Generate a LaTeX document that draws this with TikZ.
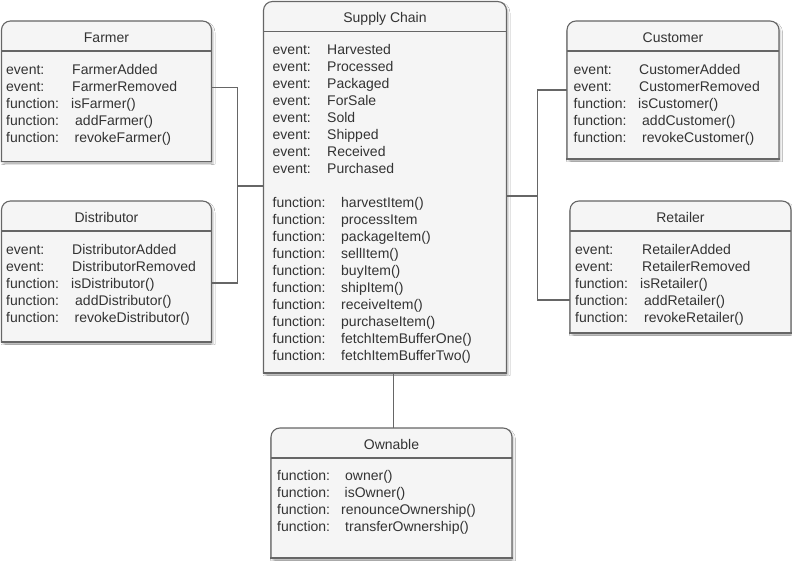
\documentclass[tikz,border=0pt]{standalone}
\usepackage{fontspec}
\setmainfont{Liberation Sans}
\usetikzlibrary{shadows.blur}

\definecolor{boxfill}{HTML}{F5F5F5}
\definecolor{boxline}{HTML}{666666}
\definecolor{txtgray}{HTML}{333333}

\tikzset{
  classbox/.style={rectangle, inner sep=0pt, outer sep=0pt, anchor=north west},
  classfill/.style={fill=boxfill, blur shadow={shadow xshift=1.5pt, shadow yshift=-2.5pt, shadow opacity=25, shadow blur radius=2pt}},
  classline/.style={draw=boxline, line width=1.1pt, line cap=rect},
  sepline/.style={draw=boxline, line width=1.1pt},
  conn/.style={draw=boxline, line width=1.2pt},
  title/.style={font=\fontsize{14}{17}\selectfont, text=txtgray, inner sep=0pt, anchor=base, yshift=-0.8pt},
  member/.style={font=\fontsize{14}{17}\selectfont, text=txtgray, inner sep=0pt, anchor=base west, yshift=-0.8pt},
}

% class box: name, left x, top y, width, height, title
\newcommand\umlclass[6]{%
  \node[classbox, minimum width=#4pt, minimum height=#5pt] (#1) at (#2,#3) {};
  \fill[classfill, rounded corners=9pt] (#1.south west) -- (#1.north west) -- (#1.north east) -- (#1.south east);
  \draw[classline, rounded corners=9pt] (#1.south west) -- (#1.north west) -- (#1.north east) -- (#1.south east);
  \draw[classline] (#1.south west) -- (#1.south east);
  \draw[sepline] ([yshift=-30pt]#1.north west) -- ([yshift=-30pt]#1.north east);
  \node[title] (#1-title) at ([yshift=-20.5pt]#1.north) {#6};
}

% member row: name, label x, value x, baseline y, label, value
\newcommand\mrow[6]{%
  \node[member] (#1-l) at (#2,#4) {#5};
  \node[member] (#1-v) at (#3,#4) {#6};
}

\begin{document}
\begin{tikzpicture}[x=1pt, y=-1pt]
\useasboundingbox (0,0) rectangle (792,561);
\fill[white] (0,0) rectangle (792,561);

% connectors
\coordinate (jl) at (237.5,186);
\coordinate (jr) at (537.5,196);

% Farmer
\umlclass{farmer}{1.5}{21}{210}{140.5}{Farmer}
\mrow{farmer-1}{6}{72}{74}{event:}{FarmerAdded}
\mrow{farmer-2}{6}{72}{91}{event:}{FarmerRemoved}
\mrow{farmer-3}{6}{71}{108}{function:}{isFarmer()}
\mrow{farmer-4}{6}{75}{125}{function:}{addFarmer()}
\mrow{farmer-5}{6}{74.5}{142}{function:}{revokeFarmer()}

% Distributor
\umlclass{distributor}{1.5}{201}{210}{141}{Distributor}
\mrow{distributor-1}{6}{72}{254}{event:}{DistributorAdded}
\mrow{distributor-2}{6}{72}{271}{event:}{DistributorRemoved}
\mrow{distributor-3}{6}{71}{288}{function:}{isDistributor()}
\mrow{distributor-4}{6}{75}{305}{function:}{addDistributor()}
\mrow{distributor-5}{6}{74.5}{322}{function:}{revokeDistributor()}

% Supply Chain
\umlclass{chain}{263.5}{1.5}{243}{371.5}{Supply Chain}
\foreach \ev [count=\i from 0] in {Harvested,Processed,Packaged,ForSale,Sold,Shipped,Received,Purchased}
  {\mrow{chain-e\i}{272.5}{327}{{54+17*\i}}{event:}{\ev}}
\foreach \fn [count=\i from 0] in {harvestItem(),processItem,packageItem(),sellItem(),buyItem(),shipItem(),receiveItem(),purchaseItem(),fetchItemBufferOne(),fetchItemBufferTwo()}
  {\mrow{chain-f\i}{272.5}{341}{{207+17*\i}}{function:}{\fn}}

% Customer
\umlclass{customer}{567}{21}{212}{138}{Customer}
\mrow{customer-1}{573.5}{639}{74}{event:}{CustomerAdded}
\mrow{customer-2}{573.5}{639}{91}{event:}{CustomerRemoved}
\mrow{customer-3}{573.5}{638}{108}{function:}{isCustomer()}
\mrow{customer-4}{573.5}{642}{125}{function:}{addCustomer()}
\mrow{customer-5}{573.5}{642}{142}{function:}{revokeCustomer()}

% Retailer
\umlclass{retailer}{570}{201}{221}{132}{Retailer}
\mrow{retailer-1}{575}{642}{254}{event:}{RetailerAdded}
\mrow{retailer-2}{575}{642}{271}{event:}{RetailerRemoved}
\mrow{retailer-3}{575}{640}{288}{function:}{isRetailer()}
\mrow{retailer-4}{575}{644}{305}{function:}{addRetailer()}
\mrow{retailer-5}{575}{644}{322}{function:}{revokeRetailer()}

% Ownable
\umlclass{ownable}{271}{428}{241}{130}{Ownable}
\mrow{ownable-1}{277}{345}{480}{function:}{owner()}
\mrow{ownable-2}{277}{344.5}{497}{function:}{isOwner()}
\mrow{ownable-3}{277}{341}{514}{function:}{renounceOwnership()}
\mrow{ownable-4}{277}{345}{531}{function:}{transferOwnership()}

% links between the classes
\draw[conn] ([yshift=4pt]farmer.east) -| (jl) |- ([yshift=-11.5pt]distributor.east);
\draw[conn] (jl) -- (jl -| chain.west);
\draw[conn] (customer.west) -| (jr) |- ([yshift=-33pt]retailer.west);
\draw[conn] (jr) -- (jr -| chain.east);
\draw[conn, line width=0.9pt] ([xshift=2pt]ownable.north) -- ([xshift=2pt]ownable.north |- chain.south);
\end{tikzpicture}
\end{document}
